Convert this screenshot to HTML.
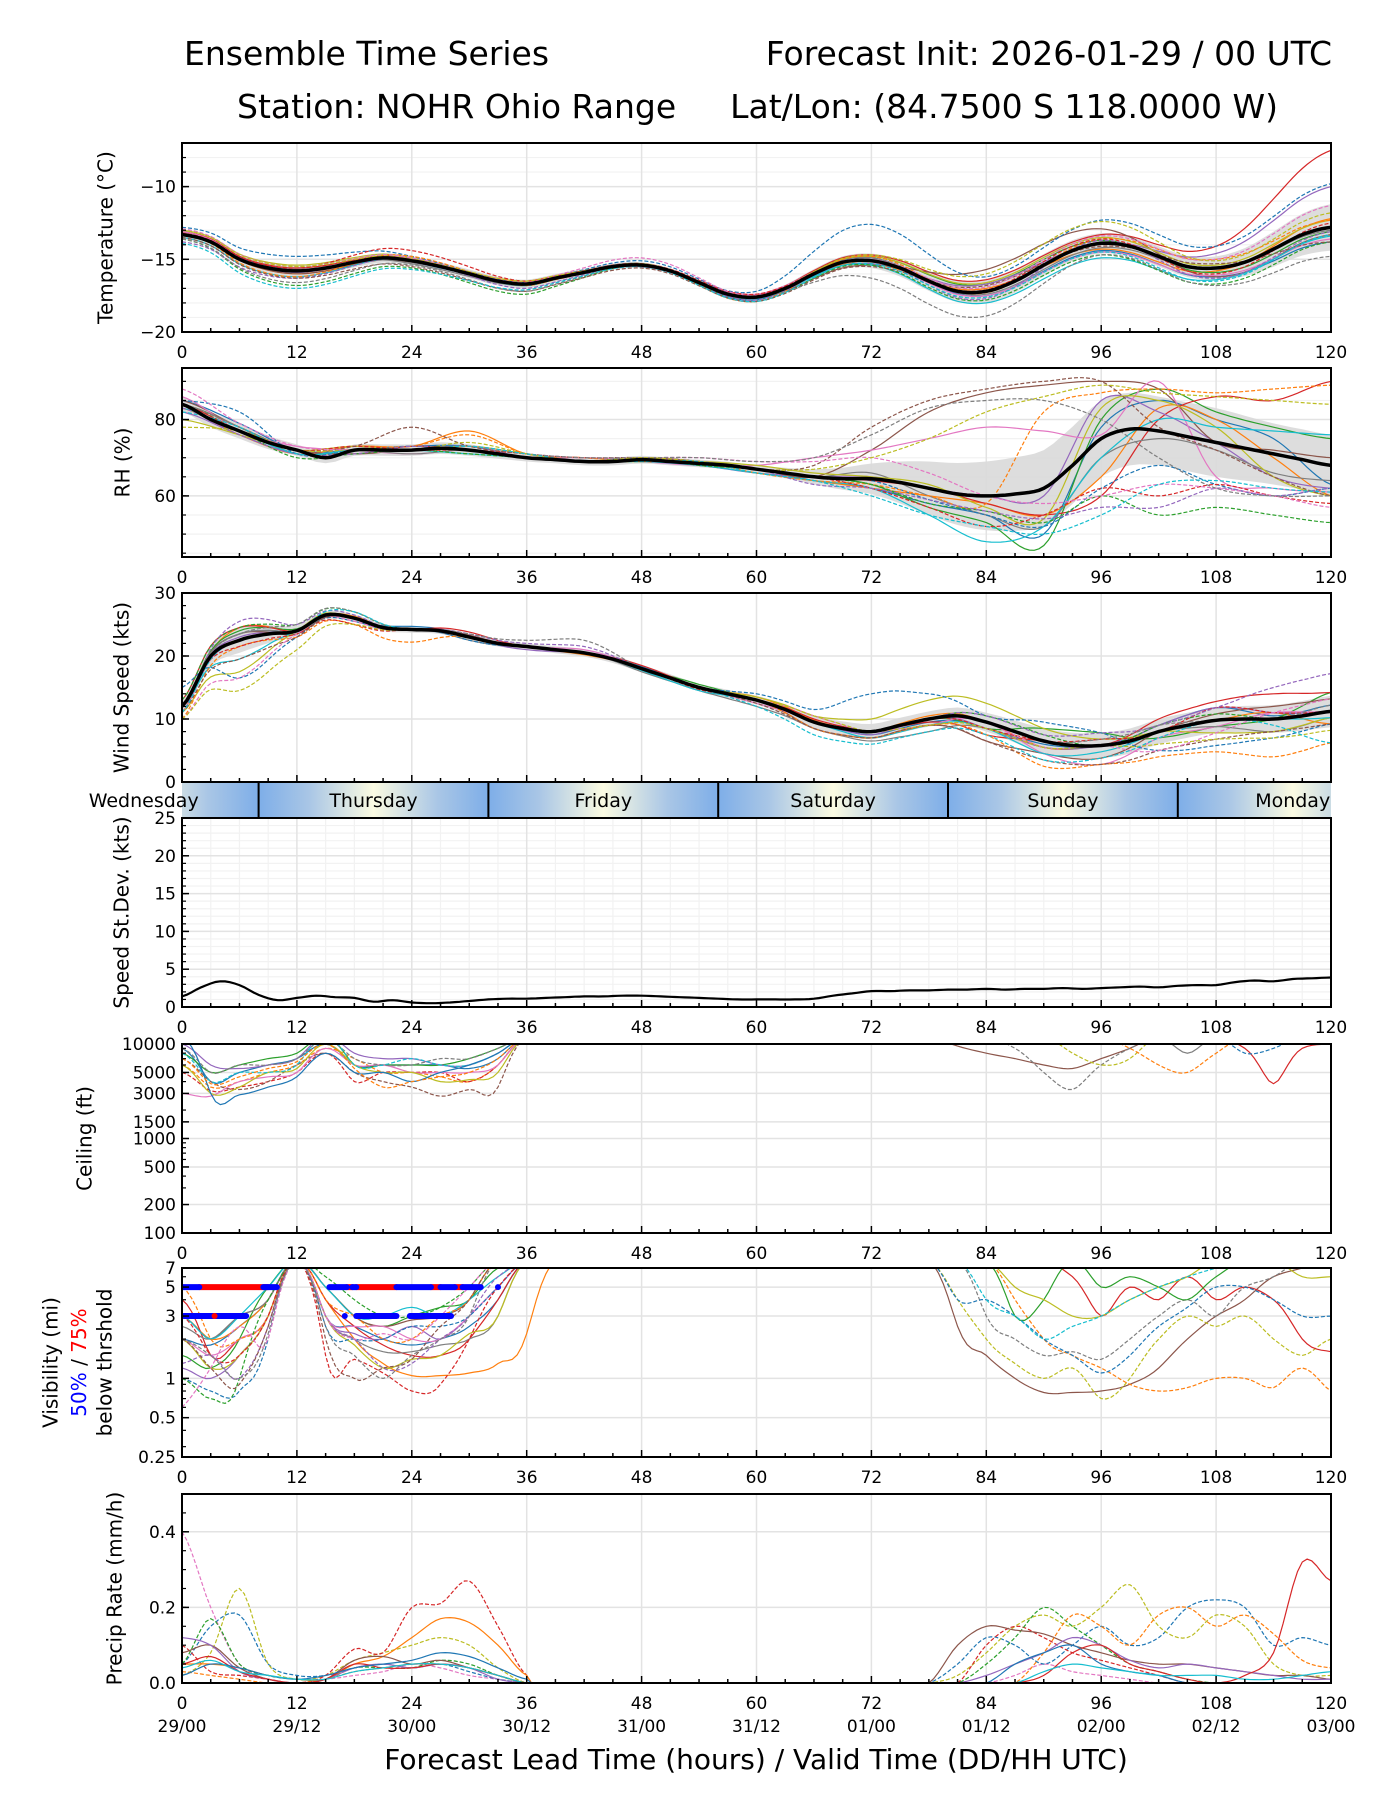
<!DOCTYPE html>
<html><head><meta charset="utf-8">
<style>
html,body{margin:0;padding:0;background:#fff;}
svg{display:block;font-family:"DejaVu Sans","Liberation Sans",sans-serif;}
</style></head>
<body>
<svg id="fig" width="1400" height="1800" viewBox="0 0 1400 1800" xmlns="http://www.w3.org/2000/svg">
<defs>
<linearGradient id="dayGrad" x1="0" x2="1" y1="0" y2="0">
<stop offset="0" stop-color="#7eaee8"/><stop offset="0.22" stop-color="#a9c6e6"/><stop offset="0.5" stop-color="#fbfbe2"/><stop offset="0.78" stop-color="#a9c6e6"/><stop offset="1" stop-color="#7eaee8"/>
</linearGradient>
</defs>
<text x="184" y="65" font-size="33">Ensemble Time Series</text>
<text x="1332" y="65" font-size="33" text-anchor="end">Forecast Init: 2026-01-29 / 00 UTC</text>
<text x="237" y="118" font-size="33">Station: NOHR Ohio Range</text>
<text x="1278" y="118" font-size="33" text-anchor="end">Lat/Lon: (84.7500 S 118.0000 W)</text>
<text x="756" y="1769" font-size="28" text-anchor="middle">Forecast Lead Time (hours) / Valid Time (DD/HH UTC)</text>
</svg>
<script>
// ---------------- DATA ----------------
const COLORS = ["#1f77b4","#ff7f0e","#2ca02c","#d62728","#9467bd","#8c564b","#e377c2","#7f7f7f","#bcbd22","#17becf"];
const xTicks = [0,12,24,36,48,60,72,84,96,108,120];
const dateLabels = ["29/00","29/12","30/00","30/12","31/00","31/12","01/00","01/12","02/00","02/12","03/00"];
const dayNames = ["Wednesday","Thursday","Friday","Saturday","Sunday","Monday"];
const dayStarts = [-16,8,32,56,80,104];

const tempMean = [-13.3,-13.8,-15.0,-15.6,-15.8,-15.6,-15.2,-14.9,-15.1,-15.5,-16.0,-16.5,-16.7,-16.3,-15.9,-15.5,-15.4,-15.8,-16.6,-17.4,-17.6,-17.0,-16.0,-15.2,-15.1,-15.6,-16.5,-17.2,-17.2,-16.5,-15.4,-14.4,-13.9,-14.1,-14.8,-15.5,-15.6,-15.2,-14.3,-13.3,-12.8];
const tempStd = [0.3,0.4,0.3,0.3,0.2,0.2,0.5,0.8,0.7,0.8,1.6];
const tempOff = [
[0.2,0.1,-0.1,0,0.1,-0.2,0.2,-0.3,-0.5,-0.6,-1.0],
[0.1,-0.2,0,0.2,0,0.1,-0.2,0.2,-0.4,-0.2,0.6],
[0,0,0.1,-0.1,0.1,0,0.3,0.5,0.2,-0.3,-0.3],
[0.2,0.2,0.1,0,0,0.1,0.4,0.8,0.6,1.5,5.3],
[0,-0.1,0,0.1,-0.1,0,-0.2,0.5,0,1.0,2.8],
[0.1,-0.2,-0.1,0,0,-0.1,-0.3,1.5,1.0,-0.6,-0.5],
[0.2,0,0.1,0.1,0,0.2,0,-0.3,-0.6,-0.5,-0.8],
[0,0.1,-0.2,-0.1,0,-0.1,0.2,-0.2,-0.3,0,-0.2],
[0.3,0.4,0.2,0,0.1,0,0.3,0.6,0.4,0.2,0.5],
[-0.2,-0.4,0,-0.1,0,-0.1,-0.3,-0.8,-1.0,-0.8,-0.6],
[0.5,1.0,0.3,0.1,0.3,0.4,2.5,1.0,1.6,1.5,3.0],
[0,-0.4,0.3,-0.1,0,-0.3,0.3,-0.1,0.3,0.6,0.5],
[-0.3,-1.0,-0.5,-0.7,0,-0.3,-0.3,-0.6,-0.8,-1.1,-1.0],
[0.1,0.2,0.7,0.2,0.1,0.2,0,0.1,0.3,-0.4,0.3],
[-0.5,-0.5,0,-0.3,0,-0.2,0,-0.5,0.2,-0.7,-0.3],
[-0.2,-0.5,-0.4,-0.5,-0.2,-0.3,-0.4,0.4,-0.2,0.3,-1.0],
[0.4,0.3,0.2,0.1,0.5,0.1,0.1,0.3,0.5,0.6,1.5],
[-0.3,-0.8,-0.3,-0.5,0,0,-1.2,-1.7,-0.8,-1.2,-2.0],
[0.3,0.3,0.1,0.2,0,0,0.4,1.2,1.5,0.5,1.0],
[-0.6,-1.2,-0.6,-0.4,-0.1,-0.3,-0.2,-0.4,-0.6,-0.9,-0.5]];

const rhMean = [84,80,77,74,72,70,72,72,72,72.5,72,71,70,69.5,69,69,69.5,69,68.5,68,67,66,65,64.5,64.5,63.5,62,60.5,60,60.5,62,68,75,77.5,77,75.5,74,72.5,71,69.5,68];
const rhStd = [2,2,1.5,1.5,1.5,1.5,1,1,1,1,1,2,4,7,9,10,10,9,9,8,8];
const rhMem = [
[85,79,72,72,73,73,70,69,70,69,67,64,62,58,55,50,78,85,80,75,63],
[83,76,71,73,73,77,71,70,69,68,66,64,62,60,58,55,65,83,80,70,60],
[84,78,71,72,72,72,70,69,69,68,67,65,63,57,53,47,80,88,82,78,75],
[84,77,72,71,73,72,70,69,70,69,67,65,64,62,58,55,60,80,86,85,90],
[82,76,71,72,72,73,70,69,69,68,66,65,65,62,60,60,85,82,74,65,62],
[85,78,72,71,72,72,70,69,69,68,67,65,72,82,87,89,90,88,74,72,70],
[86,77,73,72,71,72,70,70,69,68,68,70,72,75,78,77,76,90,65,62,61],
[84,78,71,72,71,72,70,69,70,69,67,65,66,60,55,52,70,75,72,66,64],
[80,76,72,73,72,73,71,69,69,69,68,66,65,63,57,54,83,85,78,65,60],
[83,77,71,72,72,71,70,69,69,68,66,64,62,55,48,52,70,80,78,77,76],
[85,82,71,72,73,72,70,69,70,69,67,65,64,59,55,52,62,68,63,60,62],
[84,78,72,73,73,76,71,70,69,69,66,64,63,60,58,82,87,88,87,88,89],
[84,77,70,71,72,71,70,69,70,68,67,65,63,58,56,53,60,55,57,55,53],
[84,77,72,73,72,72,71,69,70,69,67,65,62,57,52,55,62,60,63,60,58],
[83,76,71,71,73,72,70,69,70,69,67,63,62,59,56,54,57,57,62,60,62],
[84,78,72,73,78,73,71,70,70,69,67,68,78,85,88,90,90,78,72,65,60],
[88,79,73,72,72,73,71,70,70,70,69,69,70,66,60,58,60,63,62,60,57],
[84,78,72,72,72,73,71,70,70,70,69,70,76,83,85,85,80,70,62,60,60],
[78,77,72,72,72,74,71,69,70,69,67,67,70,75,82,86,89,87,86,85,84],
[82,78,71,72,72,73,71,69,69,69,66,64,60,55,52,50,55,63,64,62,61]];

const windMean = [12,20,22.5,23.5,24,26.5,26,24.5,24.2,24,23,22,21.5,21,20.5,19.5,18,16.5,15,14,13,11.5,9.5,8.5,8,9,10,10.5,9.5,8,6.5,5.8,5.8,6.5,8,9,9.8,10,10,10.5,11.2];
const windStd = [1,2,0.8,0.6,0.5,0.5,0.5,0.6,0.6,0.6,0.7,1,1.2,1.2,1.5,2,2,2,2,2.2,2.5];
const windOff = [
[0,1,0,0,0.5,0,0,0,0.3,0,0,0,-0.5,-0.5,-1,-0.5,0,1,2,0.5,1],
[-1,2,0,0.3,0,0,0,-0.3,0,0,0.5,0.3,0,0.5,0,-1,0,0,0,1,-2],
[0,1.5,0.3,0,0,0,0,0,0,0.5,0,0,0,0,-1,2,2,-1,-1,0,3],
[1,2,0,0,0,0.8,0,0,0.5,0,0,0.5,0,-0.5,-2,0,0,2,3,4,3],
[0,0.5,0,0,0,0,-0.5,0,0,0,0,0,-0.5,0,-1,-1,0,1,2,1,0],
[0,1,-0.5,0,0,0.3,0,0,0,0,0,-1,-1,-1,-3,-2,-2,0,1,2,2],
[-1,0,0,0,0,0,0,0.5,0,0,-0.5,0,0,-1,0,-2,-3,-1,-1,1,0],
[0,1,0,0,0,-0.5,0,0,-0.5,-0.5,-1,-1,-1.5,-2,-1,-1,0,0,-1,-2,-1],
[-1,-5,0,0,0,0,0,0,0,0,0.5,1,2,3,3,2,1,0,-2,-2,-1],
[0,-3,0,0,0,0,0,0,-0.3,-0.5,0,0,-1,-1,-1,-2,-1,0,0,0,-1],
[3,-6,-1,-0.5,0,-0.5,0,0,0,0,1,2,6,4,1,3,2,-3,-4,-3,-2],
[-2,-1,-1,-1,-2,0,0,0,0,0,0,-1,-1,-1,-2,-4,-3,-4,-5,-6,-5],
[1,2,1,1,0,0,0,0,0,0,0,0,0,0,1,1,0,1,1,0,0],
[0,-1,-0.5,-1,0,0,0,0,0,-0.3,0,0,0,0,-1,0,1,0,2,1,0],
[-1,3,1,0.5,0,0.5,0.5,1,0,0,0,0,0,0,1,1,2,1,2,5,6],
[-1,-3,-1,0,0,0,0,0,0,0,-0.5,-1,-1,-1,-3,-3,-3,-3,-3,-2,-2],
[-2,-6,-0.5,-0.5,0,0,0,0,0,0,0,1,0,0,0,-1,0,-3,-2,1,2],
[0,1,1,1,0,0.5,1,2,0,0,0,0,0,0,0,0,1,1,0,0,1],
[-2,-8,-3,-1,0,0,0,0,0,0,0,1,0,-1,-1,-1,0,-2,-3,-3,-3],
[-1,0,0,1,0,0,0,0,0,0,-1,-2,-2,-2,-2,-3,-2,-1,0,-1,-5]];

const sdevVals = [1.4,2.6,3.4,2.9,1.6,0.9,1.2,1.5,1.3,1.2,0.7,0.9,0.6,0.5,0.6,0.8,1.0,1.1,1.1,1.2,1.3,1.4,1.4,1.5,1.5,1.4,1.3,1.2,1.1,1.0,1.0,1.0,1.0,1.1,1.5,1.8,2.1,2.1,2.2,2.2,2.3,2.3,2.4,2.3,2.4,2.4,2.5,2.4,2.5,2.6,2.7,2.6,2.8,2.9,2.9,3.3,3.5,3.4,3.7,3.8,3.9];

const ceilEarly = [
[9,4,5,6,7,10,6,6,6,6,5.5,7,12],
[6,3.5,4,5,6,9,7,5,5,4.5,4,6,12],
[8,5,6,7,8,12,6,6,6,6,7,9,12],
[5,3.2,3.5,4,5,8,4,5,5,5,4,6,12],
[10,6,5.5,6,7,12,8,7,7,6,6,8,12],
[7,4,3.3,4,6,8,5,4,3.5,2.8,3.3,3.5,12],
[3,2.8,4,4.5,5,9,6,6,5,5,5,6,12],
[9,5,6,6,7,11,7,6,6,7,7,9,12],
[6,3,3.5,5,5.5,10,6,5,5,4,4.2,5,12],
[8,4,5,5,6,12,6,6,7,6,6,8,12],
[12,3,2.9,3.5,4.5,8,5,5,4,5,6,8,12],
[7,3.8,4.5,5.5,6.5,10,5.5,3.5,4,4.5,5,7,12]];
const ceilEarlyColor = [0,1,2,3,4,5,6,7,8,9,0,1];
const ceilLate = [
[12,9.5,8,7,6,5.5,7,9,12,12,12,12,12,12,12],
[12,12,12,9,5,3.3,6,9,12,12,12,12,12,12,12],
[12,12,12,12,12,8,6,7,12,12,12,12,12,12,12],
[12,12,12,12,12,12,12,9,6,5,8,12,12,12,12],
[12,12,12,12,12,12,12,12,12,12,12,9,3.8,9,10],
[12,12,12,12,12,12,12,12,12,8,12,12,12,12,12],
[12,12,12,12,12,12,12,12,12,12,12,8,9,12,12]];
const ceilLateColor = [5,7,8,1,3,7,0];
const ceilLateDash = [0,1,1,1,0,0,1];

const visEarly = [
[2,1.8,2.5,4,8,3,2.5,2,1.8,2,2.5,4,8,8],
[3,2,2.5,4,8,4,2,1.3,1.05,1.05,1.1,1.3,2.2,8],
[1.5,1.2,2,5,8,5,3,2.5,3,3.5,4,7,8,8],
[4,1.5,2,3,8,4,2.5,1.8,1.5,1.5,2,4,8,8],
[1.2,1.0,1.5,3,8,3,2.2,2,2.5,2,3,5,8,8],
[3,2,3,4,8,5,3,2.5,2.8,3,4,8,8,8],
[2,1.5,2,3,8,3,2.5,2.5,2,2,3,5,8,8],
[2.5,2,3,4,8,3,2,1.6,1.6,1.8,2,3,8,8],
[2,1.2,1.5,3,8,3,1.8,1.2,1.4,1.5,2.2,3,8,8],
[3,2,3,5,8,5,3,3,3.5,3,4,6,8,8],
[1,0.8,0.8,2,8,2.5,2,2,2.5,2.5,3,5,8,8],
[5,2,2,3,8,4,3,2,2,3,4,8,8,8],
[1,0.7,1,4,8,6,4,3,3,3.5,5,8,8,8],
[3,1.5,1.5,3,8,1.5,1.4,1.1,0.8,0.9,2,5,8,8],
[1.3,1.5,1.0,2.5,8,3,2,1.2,1.3,2,3,6,8,8],
[2,1.2,0.9,2.5,8,2,1.0,1.2,1.4,2.5,4,8,8,8],
[0.6,1.2,2.5,2,8,3,2,2.2,2,3,5,8,8,8],
[2,1.5,1,2.2,8,2.5,1.5,1.0,1.5,2,3,8,8,8]];
const visLate = [
[8,2.5,1.5,1.0,0.78,0.78,0.8,0.9,1.2,2,3,4,6,7,8],
[8,4,2,1.3,1.0,1.2,0.7,1,2,3,2.5,3,2,1.5,2],
[8,8,8,4,2,1.5,1.2,0.9,0.8,0.85,1.0,1.0,0.85,1.2,0.8],
[8,8,3,2,1.5,1.6,1.4,2,3,4,3,5,6,8,8],
[8,8,8,8,8,6,3,5,4,6,4,5,4,2,1.6],
[8,8,8,3,4,8,5,6,5,4,6,8,8,8,8],
[8,4,4,3,2,1.5,1.1,1.5,2.5,3.5,5,5,4,3,3],
[8,8,8,5,4,3,3,4,5,6,8,8,8,6,6],
[8,8,4,3,2,2.5,3,4,5,6,7,8,8,8,8]];
const visLateColor = [5,8,1,7,3,2,0,8,9];
const visLateDash = [0,1,1,1,0,0,1,0,1];
const vis5Red = [[1.8,9],[17.2,17.8],[18.2,22.4],[26,27],[28.5,29.3]];
const vis5Blue = [[0,1.8],[8.5,9.9],[15.4,17.2],[17.8,18.2],[22.4,26],[27,28.5],[29.3,31.2],[33,33]];
const vis3Blue = [[0.2,6.7],[17,17],[18.2,22.4],[23.8,28.1]];
const vis3Red = [[3.4,3.4]];

const precipEarly = [
[0.4,0.2,0.05,0.02,0.01,0.01,0.02,0.03,0.05,0.04,0.02,0.01,0],
[0.05,0.15,0.18,0.05,0.02,0.02,0.04,0.05,0.04,0.05,0.03,0.01,0],
[0.02,0.08,0.25,0.05,0.01,0.02,0.06,0.08,0.1,0.12,0.1,0.04,0],
[0.1,0.03,0.02,0.01,0,0.02,0.09,0.08,0.2,0.21,0.27,0.15,0.02],
[0.05,0.05,0.04,0.02,0.01,0.01,0.05,0.07,0.12,0.17,0.16,0.1,0.02],
[0.05,0.17,0.05,0.02,0.01,0.01,0.04,0.04,0.04,0.06,0.05,0.02,0],
[0.08,0.1,0.04,0.01,0,0.01,0.06,0.07,0.05,0.06,0.04,0.02,0],
[0.12,0.1,0.03,0.01,0,0.01,0.04,0.05,0.04,0.05,0.04,0.01,0],
[0.03,0.02,0.01,0,0,0.01,0.03,0.04,0.05,0.05,0.04,0.02,0],
[0.05,0.07,0.03,0.01,0,0.01,0.05,0.04,0.04,0.05,0.04,0.02,0],
[0.02,0.05,0.04,0.02,0.01,0.02,0.04,0.05,0.06,0.08,0.07,0.04,0.01],
[0.04,0.06,0.03,0.02,0.01,0.01,0.03,0.04,0.05,0.05,0.04,0.02,0]];
const precipLate = [
[0,0,0,0.02,0.05,0.03,0.02,0.01,0,0,0,0,0,0,0],
[0,0.05,0.12,0.1,0.05,0.1,0.15,0.1,0.12,0.2,0.22,0.2,0.1,0.12,0.1],
[0,0.02,0.08,0.15,0.18,0.15,0.2,0.26,0.15,0.12,0.18,0.15,0.05,0.02,0.02],
[0,0,0.1,0.15,0.12,0.08,0.06,0.04,0.02,0,0,0,0,0,0],
[0,0,0,0,0,0,0,0,0,0,0,0,0,0,0],
[0,0,0.05,0.12,0.2,0.15,0.1,0.05,0.03,0.01,0,0,0,0,0],
[0,0.1,0.15,0.14,0.13,0.1,0.08,0.06,0.05,0.05,0.04,0.03,0.02,0.02,0.01],
[0,0,0.02,0.05,0.08,0.12,0.1,0.06,0.04,0.05,0.04,0.03,0.02,0.01,0.01],
[0,0,0,0,0.08,0.18,0.15,0.1,0.18,0.2,0.15,0.18,0.13,0.06,0.04],
[0,0,0,0,0.02,0.08,0.1,0.05,0.03,0.01,0,0.02,0.08,0.32,0.27],
[0,0,0,0.05,0.08,0.1,0.05,0.03,0.02,0,0,0,0,0,0],
[0,0,0,0,0.03,0.05,0.04,0.03,0.02,0.02,0.02,0.01,0.01,0.02,0.03]];
const precipColor = [6,0,8,3,1,2,5,4,1,3,0,9];
const precipDash = [1,1,1,1,0,1,0,0,1,0,0,0];

// ---------------- DRAWING ----------------
const NS = "http://www.w3.org/2000/svg";
const svg = document.getElementById('fig');
const X0 = 182, X1 = 1331, PH = 189;
const TOPS = [143,368,593,818,1044,1268,1494];
function xs(h){ return X0 + (X1 - X0) * h / 120; }
function mk(tag, attrs, parent){
  const e = document.createElementNS(NS, tag);
  for (const k in attrs) e.setAttribute(k, attrs[k]);
  (parent || svg).appendChild(e);
  return e;
}
function cr(vals, t0, step, t){
  let f = (t - t0) / step;
  const n = vals.length;
  if (f <= 0) return vals[0];
  if (f >= n - 1) return vals[n - 1];
  const i = Math.floor(f), u = f - i;
  const p0 = vals[Math.max(i - 1, 0)], p1 = vals[i], p2 = vals[i + 1], p3 = vals[Math.min(i + 2, n - 1)];
  return 0.5 * ((2 * p1) + (-p0 + p2) * u + (2 * p0 - 5 * p1 + 4 * p2 - p3) * u * u + (-p0 + 3 * p1 - 3 * p2 + p3) * u * u * u);
}
function pathFrom(fn, ys, a, b, dt){
  let d = "";
  for (let t = a; t <= b + 1e-9; t += dt){
    d += (d ? "L" : "M") + xs(t).toFixed(1) + "," + ys(fn(t)).toFixed(1);
  }
  return d;
}
function linY(top, lo, hi){ return v => top + PH - (v - lo) / (hi - lo) * PH; }
function logY(top, lo, hi){ const a = Math.log10(lo), b = Math.log10(hi); return v => top + PH - (Math.log10(v) - a) / (b - a) * PH; }

function panelFrame(i, name, ys, majors, labels, minors, gridMinor, xMinorGrid, showX){
  const top = TOPS[i];
  const g = mk('g', {});
  
  
  const cp = mk('clipPath', {id: 'clip' + i}, g);
  mk('rect', {x: X0, y: top, width: X1 - X0, height: PH}, cp);
  if (gridMinor) minors.forEach(v => { const y = ys(v); mk('line', {x1: X0, x2: X1, y1: y, y2: y, stroke: '#f2f2f2', 'stroke-width': 1.2}, g); });
  if (xMinorGrid) for (let h = 3; h < 120; h += 3) if (h % 12) mk('line', {x1: xs(h), x2: xs(h), y1: top, y2: top + PH, stroke: '#f2f2f2', 'stroke-width': 1.2}, g);
  xTicks.forEach(h => mk('line', {x1: xs(h), x2: xs(h), y1: top, y2: top + PH, stroke: '#e3e3e3', 'stroke-width': 1.5}, g));
  majors.forEach(v => { const y = ys(v); mk('line', {x1: X0, x2: X1, y1: y, y2: y, stroke: '#e3e3e3', 'stroke-width': 1.5}, g); });
  const data = mk('g', {'clip-path': 'url(#clip' + i + ')'}, g);
  const axes = mk('g', {}, svg);
  const box = mk('rect', {x: X0, y: top, width: X1 - X0, height: PH, fill: 'none', stroke: '#000', 'stroke-width': 2}, axes);
  
  
  for (let h = 0; h <= 120; h += 3){
    const L = (h % 12 === 0) ? 7 : 4;
    mk('line', {x1: xs(h), x2: xs(h), y1: top + PH, y2: top + PH - L, stroke: '#000', 'stroke-width': 1.5}, axes);
  }
  minors.forEach(v => { const y = ys(v); mk('line', {x1: X0, x2: X0 + 4, y1: y, y2: y, stroke: '#000', 'stroke-width': 1.2}, axes); });
  majors.forEach((v, k) => {
    const y = ys(v);
    mk('line', {x1: X0, x2: X0 + 7, y1: y, y2: y, stroke: '#000', 'stroke-width': 1.5}, axes);
    const t = mk('text', {x: X0 - 6, y: y + 6, 'font-size': 17, 'text-anchor': 'end'}, axes);
    t.textContent = labels[k];
    
    
  });
  if (showX !== false) xTicks.forEach(h => {
    const t = mk('text', {x: xs(h), y: top + PH + 26, 'font-size': 17, 'text-anchor': 'middle'}, axes);
    t.textContent = String(h);
    
    
  });
  return data;
}
function ylabel(text, x, i, name){
  const cy = TOPS[i] + PH / 2;
  const t = mk('text', {x: x, y: cy, 'font-size': 20, 'text-anchor': 'middle', 'dominant-baseline': 'middle', transform: 'rotate(-90 ' + x + ' ' + cy + ')'});
  t.textContent = text;
  
  
  return t;
}
function member(parent, d, ci, dashed, name){
  const p = mk('path', {d: d, fill: 'none', stroke: COLORS[ci % 10], 'stroke-width': 1.2, 'stroke-dasharray': dashed ? '4,2' : 'none'}, parent);
  
  
  return p;
}
function band(parent, meanFn, stdArr, stdStep, ys, name){
  let up = "", dn = "";
  for (let t = 0; t <= 120; t += 1){ up += (up ? "L" : "M") + xs(t).toFixed(1) + "," + ys(meanFn(t) + cr(stdArr, 0, stdStep, t)).toFixed(1); }
  for (let t = 120; t >= 0; t -= 1){ dn += "L" + xs(t).toFixed(1) + "," + ys(meanFn(t) - cr(stdArr, 0, stdStep, t)).toFixed(1); }
  const p = mk('path', {d: up + dn + "Z", fill: '#d9d9d9', opacity: 0.9}, parent);
  
  
}
function meanLine(parent, fn, ys, name){
  const p = mk('path', {d: pathFrom(fn, ys, 0, 120, 0.5), fill: 'none', stroke: '#000', 'stroke-width': 3.5}, parent);
  
  
}
function range(a, b, s){ const r = []; for (let v = a; v <= b + 1e-9; v += s) r.push(+v.toFixed(3)); return r; }

// ---- Temperature ----
{
  const ys = linY(TOPS[0], -20, -7);
  const g = panelFrame(0, 'temperature', ys, [-20,-15,-10], ['\u221220','\u221215','\u221210'], range(-20,-7,1), true, false);
  const mf = t => cr(tempMean, 0, 3, t);
  band(g, mf, tempStd, 12, ys, 'temperature-spread-band');
  tempOff.forEach((o, k) => member(g, pathFrom(t => mf(t) + cr(o, 0, 12, t), ys, 0, 120, 0.5), k % 10, k >= 10, 'temperature-member'));
  meanLine(g, mf, ys, 'temperature-mean-line');
  ylabel('Temperature (\u00b0C)', 107, 0, 'temperature-y-axis-title');
}
// ---- RH ----
{
  const ys = linY(TOPS[1], 44, 93.5);
  const g = panelFrame(1, 'rh', ys, [60,80], ['60','80'], range(45,90,5), true, false);
  const mf = t => cr(rhMean, 0, 3, t);
  band(g, mf, rhStd, 6, ys, 'rh-spread-band');
  rhMem.forEach((m, k) => member(g, pathFrom(t => cr(m, 0, 6, t), ys, 0, 120, 0.5), k % 10, k >= 10, 'rh-member'));
  meanLine(g, mf, ys, 'rh-mean-line');
  ylabel('RH (%)', 124, 1, 'rh-y-axis-title');
}
// ---- Wind ----
{
  const ys = linY(TOPS[2], 0, 30);
  const g = panelFrame(2, 'wind', ys, [0,10,20,30], ['0','10','20','30'], range(0,30,2), false, false, false);
  const mf = t => cr(windMean, 0, 3, t);
  band(g, mf, windStd, 6, ys, 'wind-spread-band');
  windOff.forEach((o, k) => member(g, pathFrom(t => Math.max(0.2, mf(t) + cr(o, 0, 6, t)), ys, 0, 120, 0.5), k % 10, k >= 10, 'wind-member'));
  meanLine(g, mf, ys, 'wind-mean-line');
  ylabel('Wind Speed (kts)', 123, 2, 'wind-y-axis-title');
}
// ---- Day bar ----
{
  const y0 = 782, y1 = 818;
  const g = mk('g', {});
  
  
  const cp = mk('clipPath', {id: 'clipDay'}, g);
  mk('rect', {x: X0, y: y0, width: X1 - X0, height: y1 - y0}, cp);
  const inner = mk('g', {'clip-path': 'url(#clipDay)'}, g);
  dayStarts.forEach((s, k) => {
    const r = mk('rect', {x: xs(s), y: y0, width: xs(s + 24) - xs(s), height: y1 - y0, fill: 'url(#dayGrad)'}, inner);
    
    
    if (s > 0) mk('line', {x1: xs(s), x2: xs(s), y1: y0, y2: y1, stroke: '#000', 'stroke-width': 2}, inner);
  });
  mk('line', {x1: X0, x2: X1, y1: y0, y2: y0, stroke: '#000', 'stroke-width': 2}, g);
  mk('line', {x1: X0, x2: X1, y1: y1, y2: y1, stroke: '#000', 'stroke-width': 2}, g);
  dayStarts.forEach((s, k) => {
    const t = mk('text', {x: xs(s + 12), y: y0 + 25, 'font-size': 19, 'text-anchor': 'middle'}, g);
    t.textContent = dayNames[k];
    
    
  });
}
// ---- StDev ----
{
  const ys = linY(TOPS[3], 0, 25);
  const g = panelFrame(3, 'speed-stdev', ys, [0,5,10,15,20,25], ['0','5','10','15','20','25'], range(0,25,1), true, true);
  const p = mk('path', {d: pathFrom(t => cr(sdevVals, 0, 2, t), ys, 0, 120, 0.5), fill: 'none', stroke: '#000', 'stroke-width': 2.2}, g);
  
  
  ylabel('Speed St.Dev. (kts)', 123, 3, 'speed-stdev-y-axis-title');
}
// ---- Ceiling ----
{
  const ys = logY(TOPS[4], 100, 10000);
  const g = panelFrame(4, 'ceiling', ys, [100,200,500,1000,1500,3000,5000,10000], ['100','200','500','1000','1500','3000','5000','10000'], [300,400,600,700,800,900,2000,4000,6000,7000,8000,9000], false, false);
  ceilEarly.forEach((m, k) => member(g, pathFrom(t => 1000 * Math.max(0.5, cr(m, 0, 3, t)), ys, 0, 38, 0.5), ceilEarlyColor[k], k % 2 === 1, 'ceiling-member'));
  ceilLate.forEach((m, k) => member(g, pathFrom(t => 1000 * Math.max(0.5, cr(m, 78, 3, t)), ys, 78, 120, 0.5), ceilLateColor[k], ceilLateDash[k] === 1, 'ceiling-member'));
  ylabel('Ceiling (ft)', 86, 4, 'ceiling-y-axis-title');
}
// ---- Visibility ----
{
  const ys = logY(TOPS[5], 0.25, 7);
  const g = panelFrame(5, 'visibility', ys, [0.25,0.5,1,3,5,7], ['0.25','0.5','1','3','5','7'], [0.3,0.4,0.6,0.7,0.8,0.9,2,4,6], false, false);
  visEarly.forEach((m, k) => member(g, pathFrom(t => Math.max(0.3, cr(m, 0, 3, t)), ys, 0, 39, 0.5), k % 10, k >= 10, 'visibility-member'));
  visLate.forEach((m, k) => member(g, pathFrom(t => Math.max(0.3, cr(m, 78, 3, t)), ys, 78, 120, 0.5), visLateColor[k], visLateDash[k] === 1, 'visibility-member'));
  function marks(list, v, col, name){
    list.forEach(iv => {
      const l = mk('line', {x1: xs(iv[0]), x2: xs(iv[1]), y1: ys(v), y2: ys(v), stroke: col, 'stroke-width': 6, 'stroke-linecap': 'round'}, g);
      
      
    });
  }
  marks(vis5Red, 5, '#ff0000', 'vis-75pct-marker-5mi');
  marks(vis5Blue, 5, '#0000ff', 'vis-50pct-marker-5mi');
  marks(vis3Blue, 3, '#0000ff', 'vis-50pct-marker-3mi');
  marks(vis3Red, 3, '#ff0000', 'vis-75pct-marker-3mi');
  ylabel('Visibility (mi)', 52, 5, 'visibility-y-axis-title');
  const cy = TOPS[5] + PH / 2;
  const t2 = mk('text', {x: 80, y: cy, 'font-size': 20, 'text-anchor': 'middle', 'dominant-baseline': 'middle', transform: 'rotate(-90 80 ' + cy + ')'});
  
  
  const s1 = mk('tspan', {fill: '#0000ff'}, t2); s1.textContent = '50%';
  const s2 = mk('tspan', {fill: '#000'}, t2); s2.textContent = ' / ';
  const s3 = mk('tspan', {fill: '#ff0000'}, t2); s3.textContent = '75%';
  ylabel('below thrshold', 106, 5, 'visibility-threshold-caption');
}
// ---- Precip ----
{
  const ys = linY(TOPS[6], 0, 0.5);
  const g = panelFrame(6, 'precip', ys, [0,0.2,0.4], ['0.0','0.2','0.4'], range(0,0.5,0.05), false, false);
  precipEarly.forEach((m, k) => {
    const late = precipLate[k];
    const fn = t => {
      if (t <= 36) return Math.max(0, cr(m, 0, 3, t));
      if (t >= 78) return Math.max(0, cr(late, 78, 3, t));
      return 0;
    };
    member(g, pathFrom(fn, ys, 0, 120, 0.5), precipColor[k], precipDash[k] === 1, 'precip-member');
  });
  ylabel('Precip Rate (mm/h)', 116, 6, 'precip-y-axis-title');
  xTicks.forEach((h, k) => {
    const t = mk('text', {x: xs(h), y: TOPS[6] + PH + 49, 'font-size': 17, 'text-anchor': 'middle'});
    t.textContent = dateLabels[k];
    
    
  });
}
</script>
</body></html>
